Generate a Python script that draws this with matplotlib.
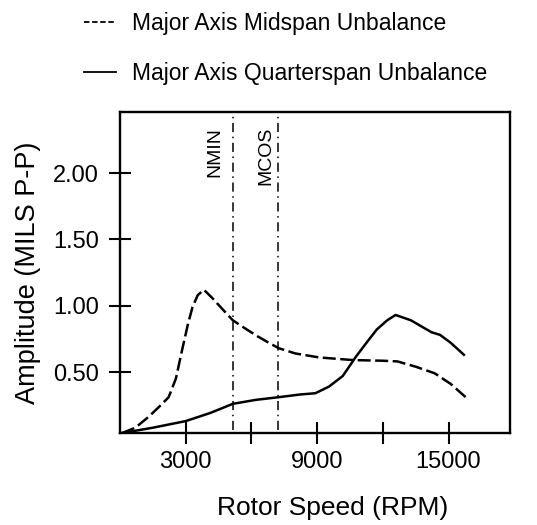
import matplotlib.pyplot as plt
from matplotlib.lines import Line2D

plt.rcParams["font.family"] = ["Liberation Sans", "DejaVu Sans"]

# Rotor speed (RPM) vs peak-to-peak amplitude (mils)
midspan_rpm = [100, 700, 1290, 1800, 2220, 2550, 2840, 3100, 3310, 3550, 3830,
               4200, 4700, 5150, 5700, 6270, 6800, 7240, 8000, 9080, 10630,
               12000, 12660, 13500, 14370, 15100, 15850]
midspan_amp = [0.04, 0.08, 0.16, 0.24, 0.31, 0.45, 0.67, 0.86, 0.99, 1.08, 1.12,
               1.06, 0.97, 0.89, 0.83, 0.77, 0.72, 0.68, 0.64, 0.61, 0.59,
               0.585, 0.58, 0.54, 0.49, 0.41, 0.30]

quarter_rpm = [100, 1500, 3000, 4100, 5150, 6200, 7240, 8200, 8920, 9540, 10170,
               10790, 11250, 11720, 12200, 12580, 13280, 13800, 14220, 14610,
               15100, 15700]
quarter_amp = [0.04, 0.08, 0.13, 0.19, 0.26, 0.29, 0.31, 0.33, 0.34, 0.39, 0.47,
               0.62, 0.72, 0.82, 0.89, 0.93, 0.89, 0.84, 0.80, 0.78,
               0.72, 0.63]

# speed markers: (name, line position, label position)
speed_marks = [("NMIN", 5160, 4350), ("MCOS", 7220, 6640)]

x_ticks = [3000, 6000, 9000, 12000, 15000]
x_labels = ["3000", "", "9000", "", "15000"]
y_ticks = [0.5, 1.0, 1.5, 2.0]
y_labels = ["0.50", "1.00", "1.50", "2.00"]

fig = plt.figure(figsize=(5.37, 5.25), dpi=100)
ax = fig.add_axes([0.2235, 0.1752, 0.726, 0.6114])

ax.plot(midspan_rpm, midspan_amp, color="black", lw=1.8, dashes=(5.2, 1.8))
ax.plot(quarter_rpm, quarter_amp, color="black", lw=1.8)

for name, rpm, text_x in speed_marks:
    ax.axvline(rpm, ymin=0.01, ymax=1, color="black", lw=1.1,
               dashes=(6, 3, 1, 3))
    ax.text(text_x, 2.35, name, rotation=90, ha="center", va="top",
            fontsize=14)

ax.set_xlim(0, 17800)
ax.set_ylim(0.04, 2.46)
ax.set_xticks(x_ticks)
ax.set_xticklabels(x_labels)
ax.set_yticks(y_ticks)
ax.set_yticklabels(y_labels)
ax.tick_params(direction="inout", length=16, width=1.5, labelsize=17,
               color="black")
ax.tick_params(axis="y", pad=7)
ax.tick_params(axis="x", pad=5)
for spine in ax.spines.values():
    spine.set_linewidth(1.7)

ax.set_xlabel("Rotor Speed (RPM)", fontsize=19)
ax.xaxis.set_label_coords(0.545, -0.197)
ax.set_ylabel("Amplitude (MILS P-P)", fontsize=19.5, labelpad=9)

handles = [
    Line2D([], [], color="black", lw=1.3, dashes=(3, 1.5)),
    Line2D([], [], color="black", lw=1.3),
]
fig.legend(handles,
           ["Major Axis Midspan Unbalance", "Major Axis Quarterspan Unbalance"],
           loc="upper left", bbox_to_anchor=(0.156, 0.977), frameon=False,
           borderpad=0, borderaxespad=0, fontsize=16.5, handlelength=1.4,
           handletextpad=0.7, labelspacing=1.17)

fig.savefig("out.png", dpi=100)
